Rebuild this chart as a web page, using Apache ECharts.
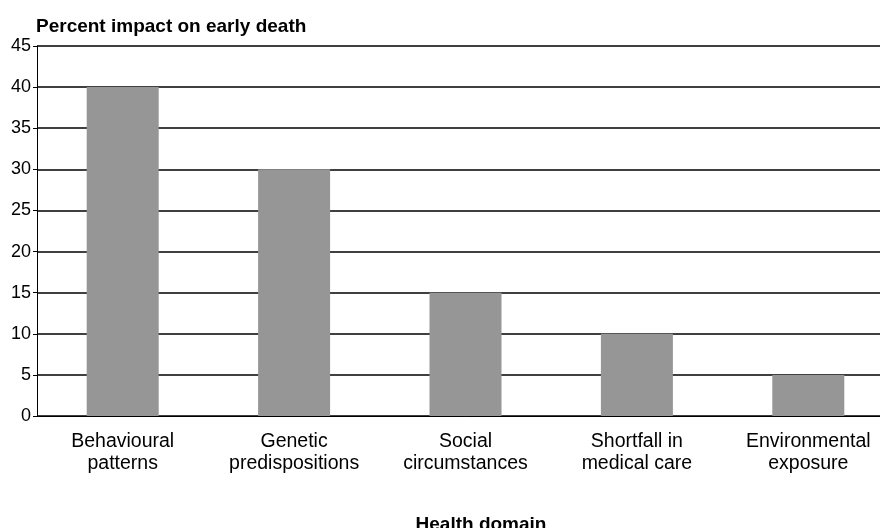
<!DOCTYPE html>
<html><head><meta charset="utf-8">
<script src="https://cdn.jsdelivr.net/npm/echarts@6/dist/echarts.min.js"></script>
<style>html,body{margin:0;padding:0;background:#fff;overflow:hidden;width:880px;height:528px}#c{width:894px;height:528px}</style>
</head><body><div id="c"></div>
<script>
const categories = ["Behavioural\npatterns", "Genetic\npredispositions", "Social\ncircumstances", "Shortfall in\nmedical care", "Environmental\nexposure"];
const values = [40, 30, 15, 10, 5];
const yTitle = "Percent impact on early death";
const xTitle = "Health domain";

const FF = 'Liberation Sans, Arial, sans-serif';
const chart = echarts.init(document.getElementById('c'), null, {renderer: 'canvas'});
chart.setOption({
  animation: false,
  backgroundColor: '#fff',
  textStyle: {fontFamily: FF},
  title: [
    {text: yTitle, left: 31, top: 12, textStyle: {fontSize: 19, fontWeight: 'bold', color: '#000', fontFamily: FF}},
    {text: xTitle, left: 476, top: 510, textAlign: 'center', textStyle: {fontSize: 19, fontWeight: 'bold', color: '#000', fontFamily: FF}}
  ],
  grid: {left: 37, top: 46, right: 0, bottom: 112, containLabel: false},
  xAxis: {
    type: 'category', data: categories,
    axisLine: {show: true, lineStyle: {color: '#000', width: 1}},
    axisTick: {show: false},
    axisLabel: {fontSize: 19.5, color: '#000', margin: 15, lineHeight: 22, fontFamily: FF}
  },
  yAxis: {
    type: 'value', min: 0, max: 45, interval: 5,
    axisLine: {show: true, lineStyle: {color: '#000', width: 1}},
    axisTick: {show: true, length: 4, inside: false, lineStyle: {color: '#000'}},
    axisLabel: {fontSize: 18, color: '#000', margin: 6, fontFamily: FF},
    splitLine: {show: true, lineStyle: {color: '#000', width: 1.5}}
  },
  series: [{
    type: 'bar', data: values, barWidth: 72,
    itemStyle: {color: '#969696'},
    z: 3
  }]
});
</script></body></html>
